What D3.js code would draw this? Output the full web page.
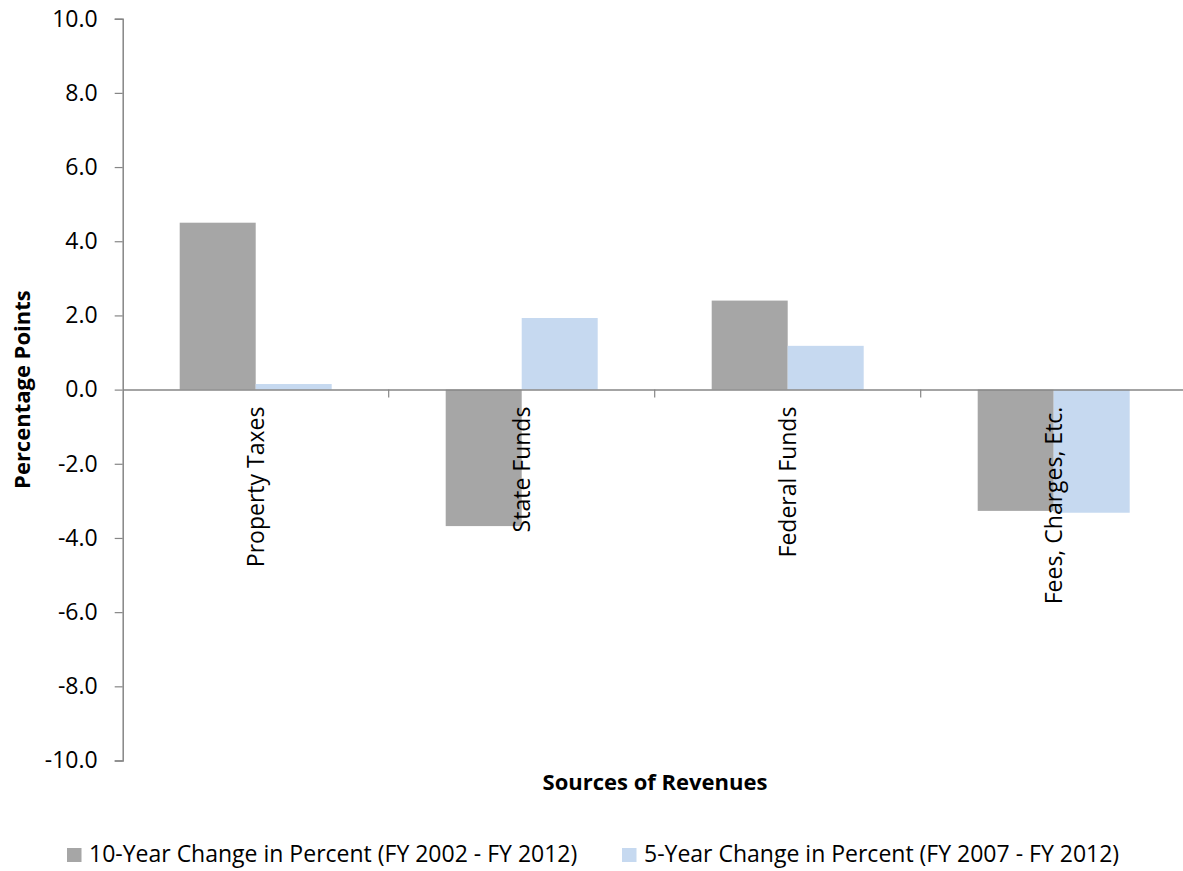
<!DOCTYPE html>
<html><head><meta charset="utf-8">
<script src="https://cdn.jsdelivr.net/npm/d3@7"></script>
<style>body{margin:0;background:#fff;} text{font-family:"Open Sans",sans-serif;fill:#000;}</style>
</head><body>
<svg id="c" width="1183" height="871"></svg>
<script>
const categories = ["Property Taxes", "State Funds", "Federal Funds", "Fees, Charges, Etc."];
const seriesNames = ["10-Year Change in Percent (FY 2002 - FY 2012)", "5-Year Change in Percent (FY 2007 - FY 2012)"];
const tenYear = [4.50, -3.68, 2.40, -3.27];
const fiveYear = [0.15, 1.93, 1.18, -3.32];
const yTicks = [-10, -8, -6, -4, -2, 0, 2, 4, 6, 8, 10];
const colors = ["#a6a6a6", "#c6d9f0"];

(function () {
const svg = d3.select("#c");
const pLeft = 122.7, pRight = 1186.7, pTop = 18.7, pBottom = 760.5;
const x = d3.scaleBand().domain(categories).range([pLeft, pRight]);
const y = d3.scaleLinear().domain([-10, 10]).range([pBottom, pTop]);
const barW = 76;
const axisCol = "#868686";
const fam = '"Open Sans",sans-serif';

// y axis
const ya = svg.append("g").attr("transform", `translate(${pLeft},0)`)
  .call(d3.axisLeft(y).tickValues(yTicks)
    .tickFormat(d => d3.format(".1f")(d).replace("\u2212", "-"))
    .tickSize(8).tickPadding(17));
ya.attr("font-family", fam).attr("font-size", 23);
ya.select(".domain").attr("stroke", axisCol).attr("stroke-width", 1.5);
ya.selectAll(".tick line").attr("stroke", axisCol).attr("stroke-width", 1.2);
ya.selectAll(".tick text").attr("fill", "#000");

// bars
const data = [tenYear, fiveYear];
data.forEach((vals, s) => {
  svg.append("g").selectAll("rect").data(vals).join("rect")
    .attr("x", (d, i) => x(categories[i]) + x.bandwidth() / 2 - barW + s * barW)
    .attr("width", barW)
    .attr("y", d => y(Math.max(0, d)))
    .attr("height", d => Math.abs(y(d) - y(0)))
    .attr("fill", colors[s]);
});

// x axis at zero
const xa = svg.append("g").attr("transform", `translate(0,${y(0)})`)
  .call(d3.axisBottom(x).tickSize(0).tickFormat(""));
xa.select(".domain").attr("stroke", axisCol).attr("stroke-width", 1.5);
// category separator ticks
svg.append("g").selectAll("line").data(categories.slice(1)).join("line")
  .attr("x1", d => x(d)).attr("x2", d => x(d))
  .attr("y1", y(0)).attr("y2", y(0) + 8)
  .attr("stroke", axisCol).attr("stroke-width", 1.2);

// category labels (rotated)
svg.append("g").selectAll("text").data(categories).join("text")
  .attr("transform", d => `translate(${x(d) + x.bandwidth() / 2 + 8.5},${y(0) + 17}) rotate(-90)`)
  .attr("text-anchor", "end")
  .attr("font-size", 23)
  .text(d => d);

// axis titles
svg.append("text").attr("transform", `translate(30,${y(0)}) rotate(-90)`)
  .attr("text-anchor", "middle").attr("font-size", 22).attr("font-weight", "bold")
  .text("Percentage Points");
svg.append("text").attr("x", 655).attr("y", 790)
  .attr("text-anchor", "middle").attr("font-size", 22).attr("font-weight", "bold")
  .text("Sources of Revenues");

// legend
const legX = [67, 622];
const lg = svg.append("g").selectAll("g").data(seriesNames).join("g")
  .attr("transform", (d, i) => `translate(${legX[i]},848)`);
lg.append("rect").attr("width", 14.5).attr("height", 14).attr("fill", (d, i) => colors[i]);
lg.append("text").attr("x", 22).attr("y", 14).attr("font-size", 23).text(d => d);
})();
</script>
</body></html>
